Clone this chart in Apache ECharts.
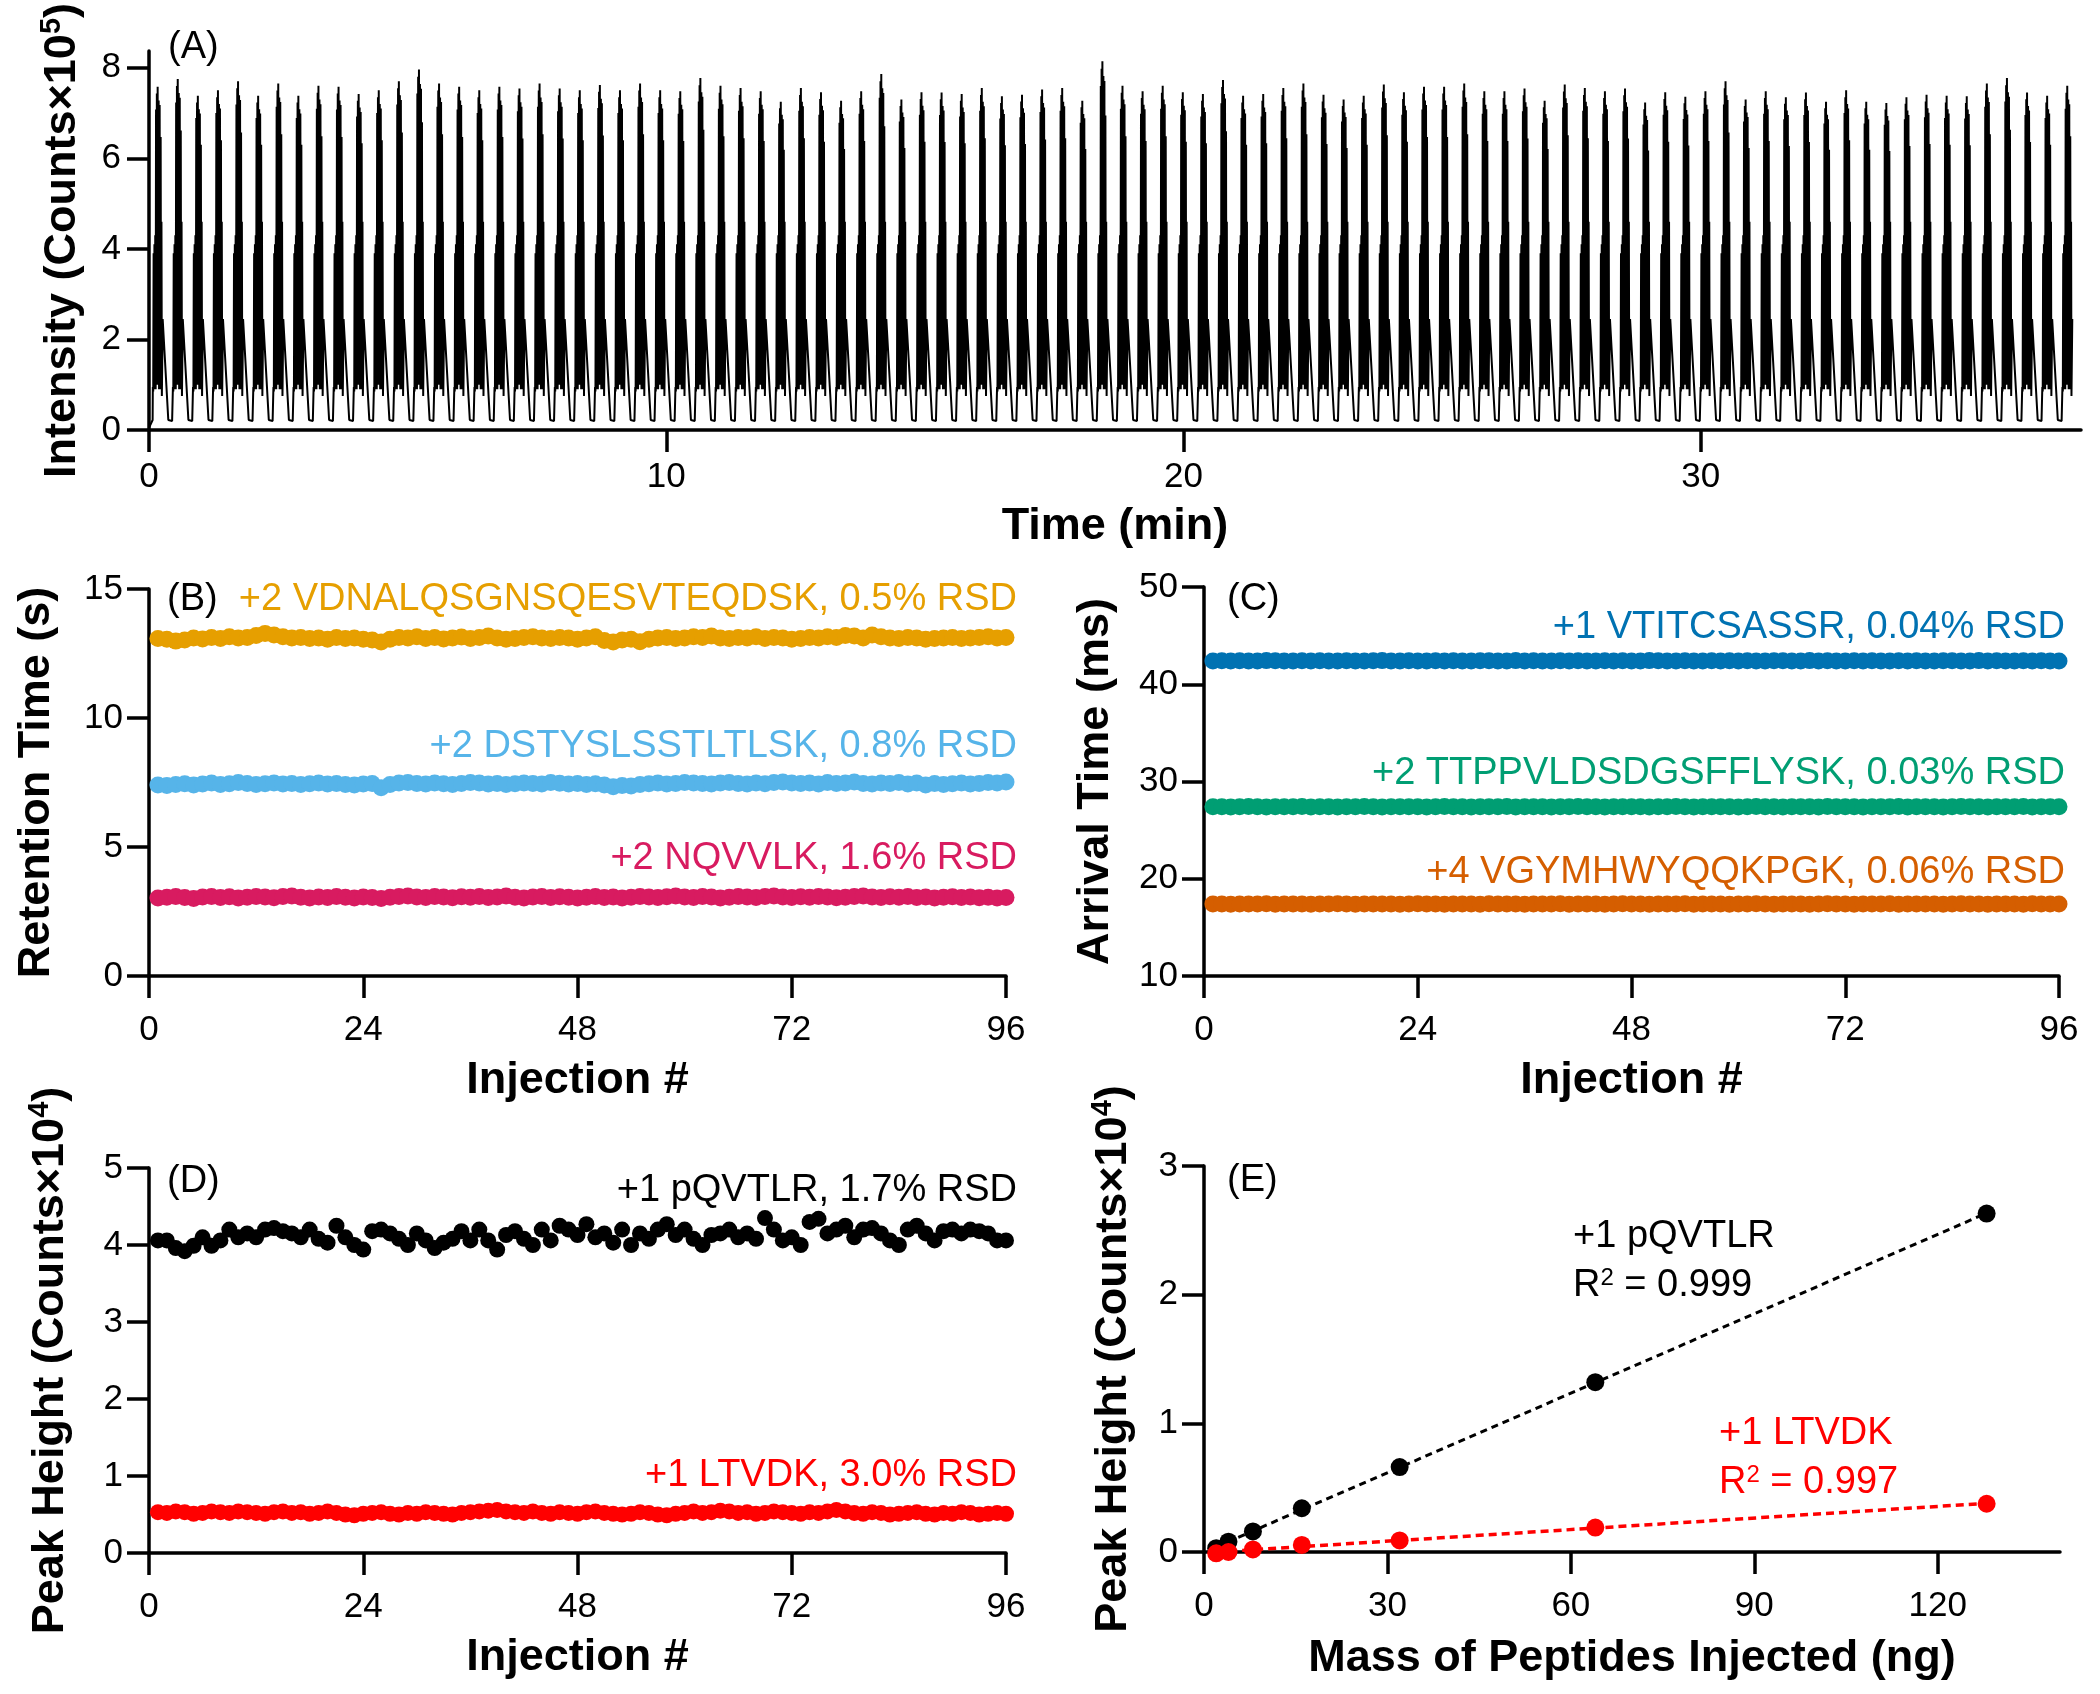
<!DOCTYPE html>
<html><head><meta charset="utf-8">
<script src="https://cdn.jsdelivr.net/npm/echarts@6/dist/echarts.min.js"></script>
<style>html,body{margin:0;padding:0;background:#fff}#c{width:2100px;height:1694px}</style>
</head><body><div id="c"></div>
<script>
const FONT = '"Liberation Sans", Arial, Helvetica, sans-serif';

// ---------- Panel A : chromatogram ----------
const timeTicks = [0, 10, 20, 30];
const intensityTicks = [0, 2, 4, 6, 8];
const injectionStart = 0.07;      // min
const injectionInterval = 0.3886; // min per injection
const traceEnd = 37.26;           // min
// top intensity (x10^5) of each of the 96 injections
const peakTops = [
  7.58,7.75,7.38,7.50,7.70,7.38,7.65,7.38,7.60,7.58,7.42,7.50,7.70,7.96,7.65,7.58,7.50,7.58,7.54,7.65,7.54,7.50,7.62,7.50,7.65,7.50,7.48,
  7.77,7.60,7.55,7.48,7.25,7.55,7.46,7.27,7.48,7.86,7.30,7.46,7.45,7.42,7.55,7.37,7.40,7.52,7.55,7.27,8.14,7.60,7.48,7.60,7.46,7.42,7.73,7.38,7.42,7.55,7.65,7.40,7.30,7.38,7.63,
  7.46,7.58,7.58,7.65,7.48,7.48,7.54,7.27,7.63,7.55,7.48,7.54,7.23,7.46,7.36,7.48,7.70,7.30,7.48,7.35,7.45,7.25,7.50,7.25,7.22,7.35,7.40,7.38,7.37,7.65,7.77,7.45,7.38,7.60
];
// one injection profile: [fraction of cycle, intensity], reference top = 7.5
const cycleShape = [
  [0.00,0.22],[0.01,0.95],[0.03,0.85],[0.05,3.9],[0.07,0.9],[0.09,4.1],[0.11,1.0],[0.13,4.3],
  [0.15,0.9],[0.17,7.0],[0.19,1.1],[0.21,7.35],[0.23,1.0],[0.25,7.5],[0.27,1.2],[0.30,7.2],
  [0.32,0.9],[0.35,7.1],[0.37,0.9],[0.40,6.4],[0.42,0.9],[0.44,4.6],[0.46,0.75],[0.50,2.45],
  [0.78,0.22],[0.80,0.20],[0.97,0.20]
];

// ---------- Panel B : retention time ----------
const injectionTicksMax = 96;
const rtVDNAL = [
  13.08,13.05,12.98,13.02,13.10,13.06,13.12,13.08,13.15,13.10,13.12,13.20,
  13.28,13.22,13.15,13.10,13.12,13.08,13.10,13.05,13.12,13.08,13.10,13.05,
  13.02,12.95,13.05,13.12,13.10,13.15,13.08,13.12,13.06,13.10,13.14,13.08,
  13.12,13.18,13.10,13.05,13.08,13.12,13.15,13.10,13.08,13.12,13.10,13.05,
  13.10,13.15,13.00,12.95,13.02,13.05,12.96,13.05,13.10,13.12,13.08,13.10,
  13.15,13.12,13.18,13.10,13.08,13.12,13.10,13.15,13.08,13.12,13.10,13.05,
  13.08,13.12,13.10,13.15,13.12,13.20,13.18,13.10,13.22,13.15,13.10,13.08,
  13.12,13.10,13.05,13.08,13.10,13.12,13.08,13.10,13.12,13.15,13.10,13.12];
const rtDSTYS = [
  7.40,7.38,7.42,7.45,7.40,7.44,7.48,7.42,7.45,7.50,7.46,7.42,
  7.45,7.48,7.44,7.46,7.42,7.45,7.48,7.44,7.46,7.42,7.40,7.44,
  7.46,7.30,7.42,7.48,7.50,7.46,7.44,7.48,7.45,7.42,7.46,7.50,
  7.48,7.44,7.46,7.42,7.45,7.48,7.46,7.44,7.50,7.47,7.44,7.46,
  7.42,7.45,7.40,7.34,7.38,7.36,7.42,7.45,7.48,7.44,7.46,7.50,
  7.48,7.46,7.44,7.48,7.50,7.46,7.44,7.48,7.45,7.50,7.52,7.48,
  7.46,7.48,7.44,7.50,7.46,7.48,7.52,7.46,7.44,7.48,7.46,7.50,
  7.44,7.48,7.40,7.46,7.42,7.45,7.48,7.44,7.46,7.50,7.48,7.52];
const rtNQVVLK = [
  3.02,3.05,3.08,3.04,3.00,3.06,3.08,3.04,3.07,3.02,3.05,3.08,
  3.06,3.03,3.08,3.10,3.05,3.02,3.06,3.04,3.08,3.05,3.02,3.06,
  3.04,3.00,3.05,3.08,3.10,3.06,3.04,3.08,3.06,3.03,3.07,3.05,
  3.08,3.04,3.06,3.10,3.05,3.02,3.06,3.08,3.04,3.07,3.05,3.02,
  3.05,3.08,3.04,3.06,3.02,3.05,3.08,3.06,3.04,3.07,3.10,3.06,
  3.04,3.08,3.06,3.02,3.05,3.08,3.06,3.04,3.08,3.10,3.06,3.04,
  3.07,3.05,3.08,3.06,3.03,3.05,3.08,3.10,3.06,3.04,3.07,3.05,
  3.08,3.04,3.06,3.02,3.05,3.07,3.04,3.06,3.03,3.05,3.02,3.04];

// ---------- Panel C : arrival time ----------
const atVTITC = [
  42.40,42.42,42.38,42.41,42.39,42.40,42.43,42.41,42.38,42.40,42.42,42.39,
  42.41,42.40,42.38,42.42,42.40,42.39,42.41,42.43,42.40,42.38,42.41,42.40,
  42.39,42.42,42.40,42.41,42.38,42.40,42.42,42.41,42.39,42.40,42.43,42.40,
  42.41,42.39,42.40,42.42,42.38,42.41,42.40,42.39,42.42,42.40,42.41,42.38,
  42.40,42.43,42.41,42.39,42.40,42.42,42.40,42.38,42.41,42.40,42.42,42.39,
  42.41,42.40,42.38,42.42,42.41,42.39,42.40,42.43,42.40,42.41,42.39,42.40,
  42.42,42.38,42.41,42.40,42.39,42.42,42.40,42.41,42.38,42.40,42.42,42.41,
  42.39,42.40,42.43,42.40,42.41,42.39,42.40,42.42,42.38,42.41,42.40,42.40];
const atTTPPV = [
  27.40,27.41,27.39,27.40,27.42,27.40,27.39,27.41,27.40,27.40,27.42,27.39,
  27.41,27.40,27.39,27.41,27.40,27.42,27.40,27.39,27.41,27.40,27.40,27.41,
  27.39,27.40,27.42,27.40,27.41,27.39,27.40,27.41,27.40,27.42,27.39,27.40,
  27.41,27.40,27.39,27.41,27.40,27.42,27.40,27.40,27.39,27.41,27.40,27.41,
  27.40,27.39,27.41,27.40,27.42,27.40,27.39,27.41,27.40,27.40,27.41,27.39,
  27.40,27.42,27.40,27.41,27.39,27.40,27.41,27.40,27.39,27.42,27.40,27.41,
  27.40,27.39,27.41,27.40,27.40,27.42,27.39,27.41,27.40,27.41,27.39,27.40,
  27.42,27.40,27.41,27.39,27.40,27.41,27.40,27.42,27.39,27.40,27.41,27.40];
const atVGYMH = [
  17.40,17.41,17.39,17.40,17.41,17.40,17.42,17.39,17.40,17.41,17.40,17.39,
  17.41,17.40,17.42,17.40,17.39,17.41,17.40,17.40,17.41,17.39,17.40,17.42,
  17.40,17.41,17.39,17.40,17.41,17.40,17.39,17.42,17.40,17.41,17.40,17.39,
  17.41,17.40,17.40,17.42,17.39,17.41,17.40,17.41,17.39,17.40,17.42,17.40,
  17.41,17.39,17.40,17.41,17.40,17.42,17.39,17.40,17.41,17.40,17.39,17.41,
  17.40,17.42,17.40,17.39,17.41,17.40,17.41,17.39,17.40,17.42,17.40,17.41,
  17.39,17.40,17.41,17.40,17.42,17.39,17.41,17.40,17.40,17.41,17.39,17.40,
  17.42,17.40,17.41,17.39,17.40,17.41,17.40,17.39,17.42,17.40,17.41,17.40];

// ---------- Panel D : peak height (x10^4) ----------
const phPQVTLR = [
  4.06,4.06,3.96,3.92,3.99,4.10,3.99,4.06,4.20,4.10,4.15,4.10,
  4.20,4.22,4.18,4.15,4.10,4.20,4.08,4.03,4.25,4.10,4.00,3.94,
  4.18,4.20,4.15,4.08,4.00,4.15,4.06,3.96,4.03,4.08,4.18,4.06,
  4.20,4.06,3.94,4.13,4.18,4.08,4.00,4.20,4.06,4.25,4.20,4.13,
  4.27,4.10,4.15,4.03,4.20,4.00,4.15,4.08,4.20,4.27,4.13,4.20,
  4.08,4.00,4.13,4.15,4.20,4.10,4.15,4.08,4.35,4.20,4.06,4.10,
  4.00,4.30,4.34,4.15,4.20,4.25,4.10,4.20,4.22,4.15,4.06,4.00,
  4.20,4.25,4.15,4.06,4.18,4.20,4.15,4.20,4.18,4.15,4.06,4.06];
const phLTVDK = [
  0.53,0.52,0.54,0.53,0.51,0.52,0.54,0.53,0.52,0.54,0.53,0.52,
  0.51,0.53,0.54,0.52,0.53,0.51,0.52,0.54,0.52,0.50,0.49,0.51,
  0.52,0.53,0.51,0.50,0.52,0.51,0.53,0.52,0.51,0.50,0.52,0.53,
  0.54,0.55,0.56,0.54,0.53,0.52,0.54,0.52,0.51,0.53,0.52,0.51,
  0.53,0.54,0.52,0.51,0.50,0.51,0.53,0.52,0.50,0.49,0.51,0.52,
  0.54,0.52,0.53,0.55,0.54,0.52,0.53,0.51,0.52,0.54,0.53,0.52,
  0.51,0.53,0.52,0.54,0.56,0.54,0.52,0.51,0.53,0.52,0.50,0.51,
  0.52,0.53,0.51,0.50,0.52,0.51,0.53,0.52,0.50,0.51,0.52,0.51];

// ---------- Panel E : calibration ----------
const massInjected = [2, 4, 8, 16, 32, 64, 128];
const calPQVTLR = [0.03, 0.08, 0.16, 0.34, 0.66, 1.32, 2.63];
const calLTVDK  = [-0.01, 0.00, 0.02, 0.055, 0.09, 0.19, 0.375];
const massTicks = [0, 30, 60, 90, 120];

// ---------- colours ----------
const C_ORANGE = '#E69F00', C_SKY = '#56B4E9', C_CRIMSON = '#D81B60';
const C_BLUE = '#0072B2', C_GREEN = '#009E73', C_VERM = '#D55E00';
const C_RED = '#FF0000', C_BLACK = '#000000';

// build chromatogram from peak tops + profile
const trace = [[0, 0.05]];
peakTops.forEach((H, k) => {
  const t0 = injectionStart + k * injectionInterval;
  cycleShape.forEach(([f, v]) => {
    const t = t0 + f * injectionInterval;
    if (t <= traceEnd) trace.push([+t.toFixed(4), v > 5 ? +(v * H / 7.5).toFixed(3) : v]);
  });
});

const idx = a => a.map((v, i) => [i + 1, v]);
function fit(xs, ys) {
  const n = xs.length, mx = xs.reduce((a, b) => a + b) / n, my = ys.reduce((a, b) => a + b) / n;
  let sxy = 0, sxx = 0;
  xs.forEach((x, i) => { sxy += (x - mx) * (ys[i] - my); sxx += (x - mx) * (x - mx); });
  const m = sxy / sxx, b = my - m * mx;
  const x0 = Math.min(...xs), x1 = Math.max(...xs);
  return [[x0, m * x0 + b], [x1, m * x1 + b]];
}

const AX = { color: C_BLACK, width: 3.5 };
function xAx(grid, o) {
  return Object.assign({
    gridIndex: grid, type: 'value', splitLine: { show: false },
    axisLine: { onZero: false, lineStyle: AX },
    axisTick: { length: 22, lineStyle: AX },
    axisLabel: { color: C_BLACK, fontSize: 35, fontFamily: FONT, margin: 37 },
    nameLocation: 'middle', nameGap: 82,
    nameTextStyle: { color: C_BLACK, fontSize: 45, fontWeight: 'bold', fontFamily: FONT }
  }, o);
}
function yAx(grid, o) {
  return Object.assign({
    gridIndex: grid, type: 'value', splitLine: { show: false },
    axisLine: { onZero: false, lineStyle: AX },
    axisTick: { length: 22, lineStyle: AX },
    axisLabel: { color: C_BLACK, fontSize: 35, fontFamily: FONT, margin: 26 },
    nameLocation: 'middle', nameGap: 80,
    nameTextStyle: { color: C_BLACK, fontSize: 45, fontWeight: 'bold', fontFamily: FONT,
      rich: {
        t: { fontSize: 45, fontWeight: 'bold', fontFamily: FONT, color: C_BLACK, lineHeight: 52 },
        s: { fontSize: 29, fontWeight: 'bold', fontFamily: FONT, color: C_BLACK, verticalAlign: 'top', lineHeight: 52, padding: [0, 0, 14, 0] }
      } }
  }, o);
}
function scat(xi, data, color, size) {
  return { type: 'scatter', xAxisIndex: xi, yAxisIndex: xi, data, symbolSize: size || 17,
    itemStyle: { color, opacity: 1 }, clip: false, z: 3 };
}
function txt(x, y, text, color, align, size) {
  return { type: 'text', x, y, z: 100,
    style: { text, fill: color, font: `${size || 38}px ${FONT}`, align: align || 'right', verticalAlign: 'middle',
      rich: {
        a: { fontSize: size || 38, fontFamily: FONT, fill: color, color },
        s: { fontSize: 24, fontFamily: FONT, fill: color, color, verticalAlign: 'top', padding: [0, 0, 16, 0] }
      } } };
}

const chart = echarts.init(document.getElementById('c'), null, { renderer: 'canvas', width: 2100, height: 1694 });
chart.setOption({
  animation: false,
  backgroundColor: '#ffffff',
  grid: [
    { left: 149, top: 40, width: 1932, height: 390 },
    { left: 149, top: 589, width: 857, height: 387 },
    { left: 1204, top: 587, width: 855, height: 389 },
    { left: 149, top: 1168, width: 857, height: 385 },
    { left: 1204, top: 1166, width: 856, height: 386 }
  ],
  xAxis: [
    xAx(0, { min: 0, max: 37.35, name: 'Time (min)', nameGap: 74,
      axisTick: { length: 22, lineStyle: AX, customValues: timeTicks },
      axisLabel: { color: C_BLACK, fontSize: 35, fontFamily: FONT, margin: 30, customValues: timeTicks } }),
    xAx(1, { min: 0, max: injectionTicksMax, interval: 24, name: 'Injection #' }),
    xAx(2, { min: 0, max: injectionTicksMax, interval: 24, name: 'Injection #' }),
    xAx(3, { min: 0, max: injectionTicksMax, interval: 24, name: 'Injection #' }),
    xAx(4, { min: 0, max: 140, name: 'Mass of Peptides Injected (ng)', nameGap: 84,
      axisTick: { length: 22, lineStyle: AX, customValues: massTicks },
      axisLabel: { color: C_BLACK, fontSize: 35, fontFamily: FONT, margin: 37, customValues: massTicks } })
  ],
  yAxis: [
    yAx(0, { min: 0, max: 8.37, name: '{t|Intensity (Counts×10}{s|5}{t|)}', nameGap: 60,
      axisTick: { length: 22, lineStyle: AX, customValues: intensityTicks },
      axisLabel: { color: C_BLACK, fontSize: 35, fontFamily: FONT, margin: 28, customValues: intensityTicks } }),
    yAx(1, { min: 0, max: 15, interval: 5, name: '{t|Retention Time (s)}', nameGap: 86 }),
    yAx(2, { min: 10, max: 50, interval: 10, name: '{t|Arrival Time (ms)}', nameGap: 82 }),
    yAx(3, { min: 0, max: 5, interval: 1, name: '{t|Peak Height (Counts×10}{s|4}{t|)}', nameGap: 72 }),
    yAx(4, { min: 0, max: 3, interval: 1, name: '{t|Peak Height (Counts×10}{s|4}{t|)}', nameGap: 64 })
  ],
  series: [
    { type: 'line', xAxisIndex: 0, yAxisIndex: 0, data: trace, showSymbol: false, symbol: 'none',
      lineStyle: { color: C_BLACK, width: 2 }, sampling: null, z: 2 },
    scat(1, idx(rtVDNAL), C_ORANGE),
    scat(1, idx(rtDSTYS), C_SKY),
    scat(1, idx(rtNQVVLK), C_CRIMSON),
    scat(2, idx(atVTITC), C_BLUE),
    scat(2, idx(atTTPPV), C_GREEN),
    scat(2, idx(atVGYMH), C_VERM),
    scat(3, idx(phPQVTLR), C_BLACK, 16),
    scat(3, idx(phLTVDK), C_RED, 16),
    { type: 'line', xAxisIndex: 4, yAxisIndex: 4, data: fit(massInjected, calPQVTLR), symbol: 'none',
      lineStyle: { color: C_BLACK, width: 3, type: [7, 5] }, z: 2 },
    { type: 'line', xAxisIndex: 4, yAxisIndex: 4, data: fit(massInjected, calLTVDK), symbol: 'none',
      lineStyle: { color: C_RED, width: 3.5, type: [8, 5] }, z: 2 },
    scat(4, massInjected.map((m, i) => [m, calPQVTLR[i]]), C_BLACK, 18),
    scat(4, massInjected.map((m, i) => [m, calLTVDK[i]]), C_RED, 18)
  ],
  graphic: [
    txt(168, 48, '(A)', C_BLACK, 'left'),
    txt(167, 600, '(B)', C_BLACK, 'left'),
    txt(1017, 600, '+2 VDNALQSGNSQESVTEQDSK, 0.5% RSD', C_ORANGE),
    txt(1017, 747, '+2 DSTYSLSSTLTLSK, 0.8% RSD', C_SKY),
    txt(1017, 859, '+2 NQVVLK, 1.6% RSD', C_CRIMSON),
    txt(1227, 600, '(C)', C_BLACK, 'left'),
    txt(2065, 628, '+1 VTITCSASSR, 0.04% RSD', C_BLUE),
    txt(2065, 774, '+2 TTPPVLDSDGSFFLYSK, 0.03% RSD', C_GREEN),
    txt(2065, 873, '+4 VGYMHWYQQKPGK, 0.06% RSD', C_VERM),
    txt(167, 1182, '(D)', C_BLACK, 'left'),
    txt(1017, 1191, '+1 pQVTLR, 1.7% RSD', C_BLACK),
    txt(1017, 1476, '+1 LTVDK, 3.0% RSD', C_RED),
    txt(1227, 1181, '(E)', C_BLACK, 'left'),
    txt(1573, 1237, '+1 pQVTLR', C_BLACK, 'left'),
    txt(1573, 1286, '{a|R}{s|2}{a| = 0.999}', C_BLACK, 'left'),
    txt(1719, 1434, '+1 LTVDK', C_RED, 'left'),
    txt(1719, 1483, '{a|R}{s|2}{a| = 0.997}', C_RED, 'left')
  ]
});
</script></body></html>
